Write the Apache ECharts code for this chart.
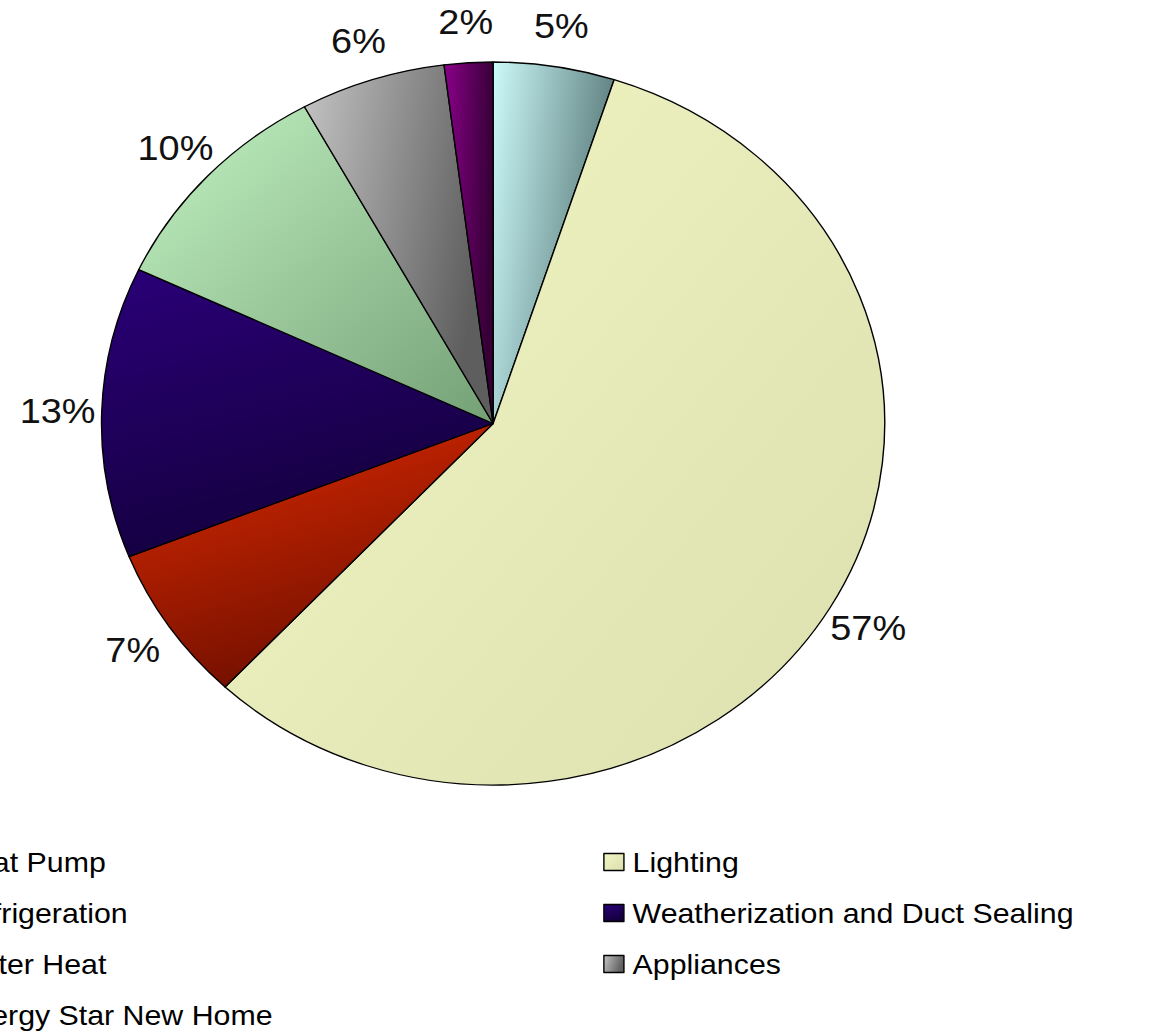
<!DOCTYPE html>
<html><head><meta charset="utf-8">
<script src="https://cdn.jsdelivr.net/npm/echarts@6/dist/echarts.min.js"></script>
<style>
html,body{margin:0;padding:0;background:#fff;overflow:hidden;width:1158px;height:1033px}
#c{width:1069px;height:1033px;transform:scaleX(1.0833);transform-origin:0 0}
</style>
</head><body><div id="c"></div>
<script>
const categories = ['Heat Pump','Lighting','Refrigeration','Weatherization and Duct Sealing','Water Heat','Appliances','Energy Star New Home'];
const shares = [5, 57, 7, 13, 10, 6, 2];
const leftLegendNames = ['Heat Pump','Refrigeration','Water Heat','Energy Star New Home'];
const rightLegendNames = ['Lighting','Weatherization and Duct Sealing','Appliances'];
const lightColors = ['#cdfafa','#f0f5c2','#d82800','#2a0078','#c2f2c2','#c4c4c4','#8a008a'];
const darkColors  = ['#587878','#dcdfae','#6a0e00','#14003e','#74a076','#5e5e5e','#360036'];
const gradDirs = [[0,0,1,0.35],[0,0.1,1,1],[0.2,0,0.6,1],[0,0,0.35,1],[0,0,1,1],[0,0,1,0.3],[0,0,1,0.2]];

function grad(i){
  const d = gradDirs[i];
  return new echarts.graphic.LinearGradient(d[0], d[1], d[2], d[3], [
    {offset: 0, color: lightColors[i]}, {offset: 1, color: darkColors[i]}
  ]);
}
const pieData = categories.map((n, i) => ({name: n, value: shares[i], itemStyle: {color: grad(i)}}));
const labelData = categories.map((n, i) => ({name: n, value: shares[i]}));

const chart = echarts.init(document.getElementById('c'), null, {renderer: 'svg'});
const legendBase = {
  orient: 'vertical', top: 846, padding: 0, itemGap: 19,
  itemWidth: 18.5, itemHeight: 17, icon: 'rect',
  itemStyle: {borderColor: '#000', borderWidth: 1.3},
  selectedMode: false,
  textStyle: {fontFamily: 'Liberation Sans, Arial, sans-serif', fontSize: 28, lineHeight: 32, color: '#000', padding: [0,0,0,3]}
};
chart.setOption({
  animation: false,
  backgroundColor: '#fff',
  legend: [
    Object.assign({}, legendBase, {left: -69.5, data: leftLegendNames}),
    Object.assign({}, legendBase, {left: 556.8, data: rightLegendNames})
  ],
  series: [
    {
      type: 'pie', center: [455.2, 423.5], radius: [0, 361.5], startAngle: 90, clockwise: true,
      label: {show: false}, labelLine: {show: false}, silent: true,
      itemStyle: {borderColor: '#000', borderWidth: 1.3},
      emphasis: {disabled: true},
      data: pieData
    },
    {
      type: 'pie', center: [455.2, 423.5], radius: [361.5, 437], startAngle: 90, clockwise: true,
      silent: true, emphasis: {disabled: true},
      itemStyle: {color: 'rgba(0,0,0,0)', borderWidth: 0},
      label: {show: true, position: 'inside', formatter: '{d}%', fontFamily: 'Liberation Sans, Arial, sans-serif', fontSize: 35, color: '#111'},
      labelLine: {show: false},
      data: labelData
    }
  ]
});
</script>
</body></html>
